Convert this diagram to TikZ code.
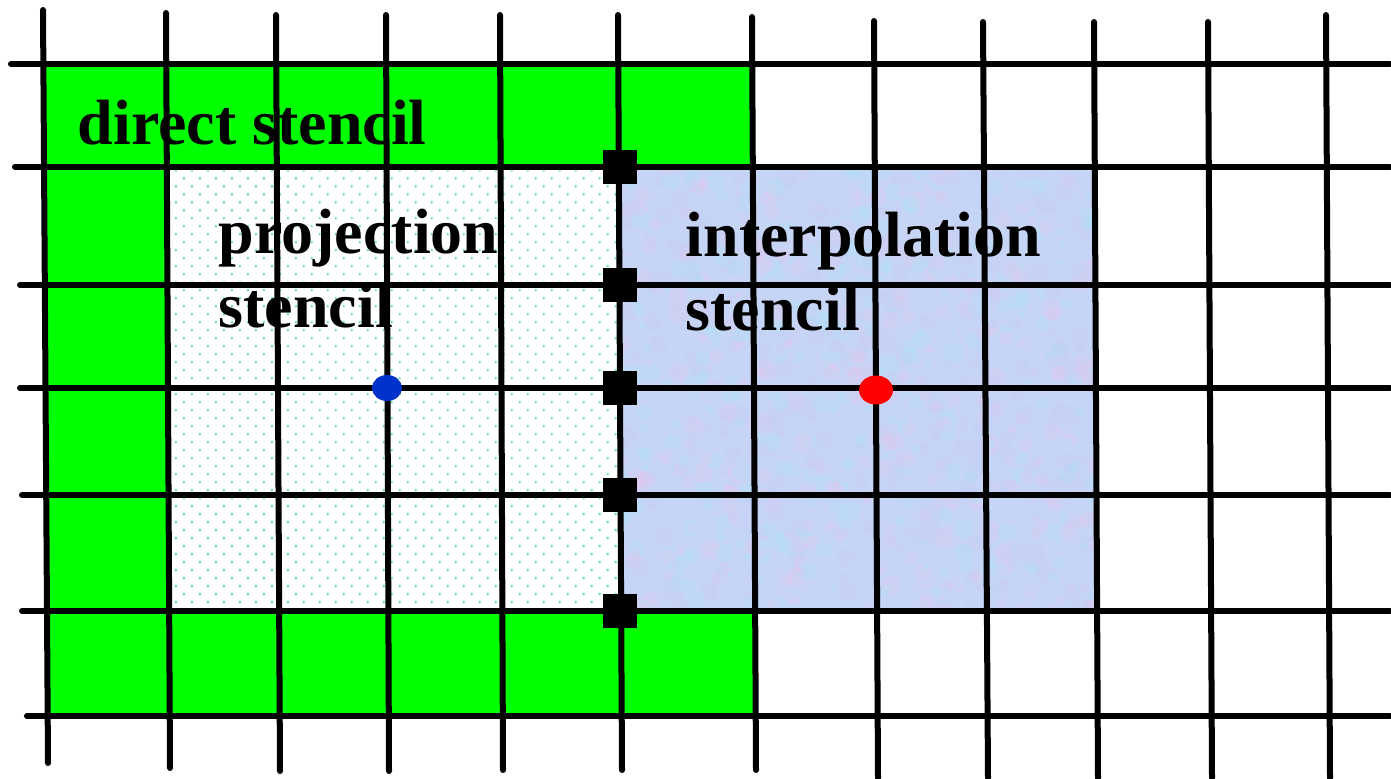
\documentclass[tikz,border=0pt]{standalone}
\usepackage{fontspec}
\setmainfont{Liberation Serif}
\usetikzlibrary{patterns.meta,shapes.geometric}
\definecolor{stencilgreen}{RGB}{0,255,0}
\definecolor{dotteal}{RGB}{70,225,180}
\definecolor{interpbase}{RGB}{198,212,245}
\definecolor{interppink}{RGB}{236,196,236}
\definecolor{interpcyan}{RGB}{172,228,248}
\definecolor{pointblue}{RGB}{0,51,204}
\newcommand{\stGridV}[4]{%
    \draw[gridline] (#1,#2) -- (#3,#4);
}
\newcommand{\stGridH}[2]{%
    \draw[gridline] (#1,#2) -- (1390,#2);
}

\begin{document}
\begin{tikzpicture}[x=0.01cm, y=-0.01cm,
    gridline/.style={line width=0.06cm, line cap=round},
    facebox/.style={fill=black, minimum size=0.34cm, inner sep=0},
    stencillabel/.style={anchor=base west, inner sep=0, align=left,
        font=\fontsize{18.2pt}{21pt}\selectfont\bfseries}]
    \useasboundingbox (0,0) rectangle (1391,778);
    % direct stencil (green ring)
    \fill[stencilgreen] (45,64) rectangle (754,716);
    % projection stencil (dotted)
    \fill[white] (167,167) rectangle (620,611);
    \path[pattern={Dots[distance=0.113cm, angle=45, radius=0.013cm]}, pattern color=dotteal]
        (167,167) rectangle (620,611);
    % interpolation stencil (mottled blue)
    \begin{scope}
        \clip (620,167) rectangle (1097,611);
        \fill[interpbase] (620,167) rectangle (1097,611);
        \pgfmathsetseed{11}
        \foreach \k in {1,...,900} {
            \pgfmathsetmacro{\px}{615+487*rnd}
            \pgfmathsetmacro{\py}{162+454*rnd}
            \pgfmathsetmacro{\pr}{0.03+0.07*rnd}
            \pgfmathtruncatemacro{\pc}{mod(\k,3)}
            \ifnum\pc=0
                \fill[interppink, opacity=0.22] (\px,\py) circle ({\pr*1cm});
            \else\ifnum\pc=1
                \fill[interpcyan, opacity=0.25] (\px,\py) circle ({\pr*1cm});
            \else
                \fill[interpbase!80!blue!60!white, opacity=0.15] (\px,\py) circle ({\pr*1cm});
            \fi\fi
        }
    \end{scope}
    % grid
    \stGridH{11}{64}
    \stGridH{15}{167}
    \stGridH{20}{285}
    \stGridH{20}{388}
    \stGridH{22}{495}
    \stGridH{22}{611}
    \stGridH{27}{716}
    \stGridV{43}{10}{48}{763}
    \stGridV{166}{13}{170}{768}
    \stGridV{276}{15}{280}{771}
    \stGridV{386}{15}{389}{771}
    \stGridV{500}{15}{503}{770}
    \stGridV{618}{15}{622}{770}
    \stGridV{752}{17}{756}{770}
    \stGridV{874}{21}{878}{778}
    \stGridV{983}{22}{988}{778}
    \stGridV{1094}{22}{1098}{778}
    \stGridV{1208}{22}{1212}{778}
    \stGridV{1326}{15}{1330}{778}
    % labels
    \node[stencillabel] (direct) at (77,144) {direct stencil};
    \node[stencillabel] (projection) at (218,327) {projection\\stencil};
    \node[stencillabel] (interpolation) at (685,330) {interpolation\\stencil};
    % interface points
    \foreach \y [count=\i] in {167,285,388,495,611} {
        \node[facebox] (face\i) at (620,\y) {};
    }
    \node[ellipse, fill=pointblue, minimum width=0.30cm, minimum height=0.26cm, inner sep=0] (projpt) at (387,388) {};
    \node[ellipse, fill=red, minimum width=0.34cm, minimum height=0.29cm, inner sep=0] (interppt) at (876,390) {};
\end{tikzpicture}
\end{document}
